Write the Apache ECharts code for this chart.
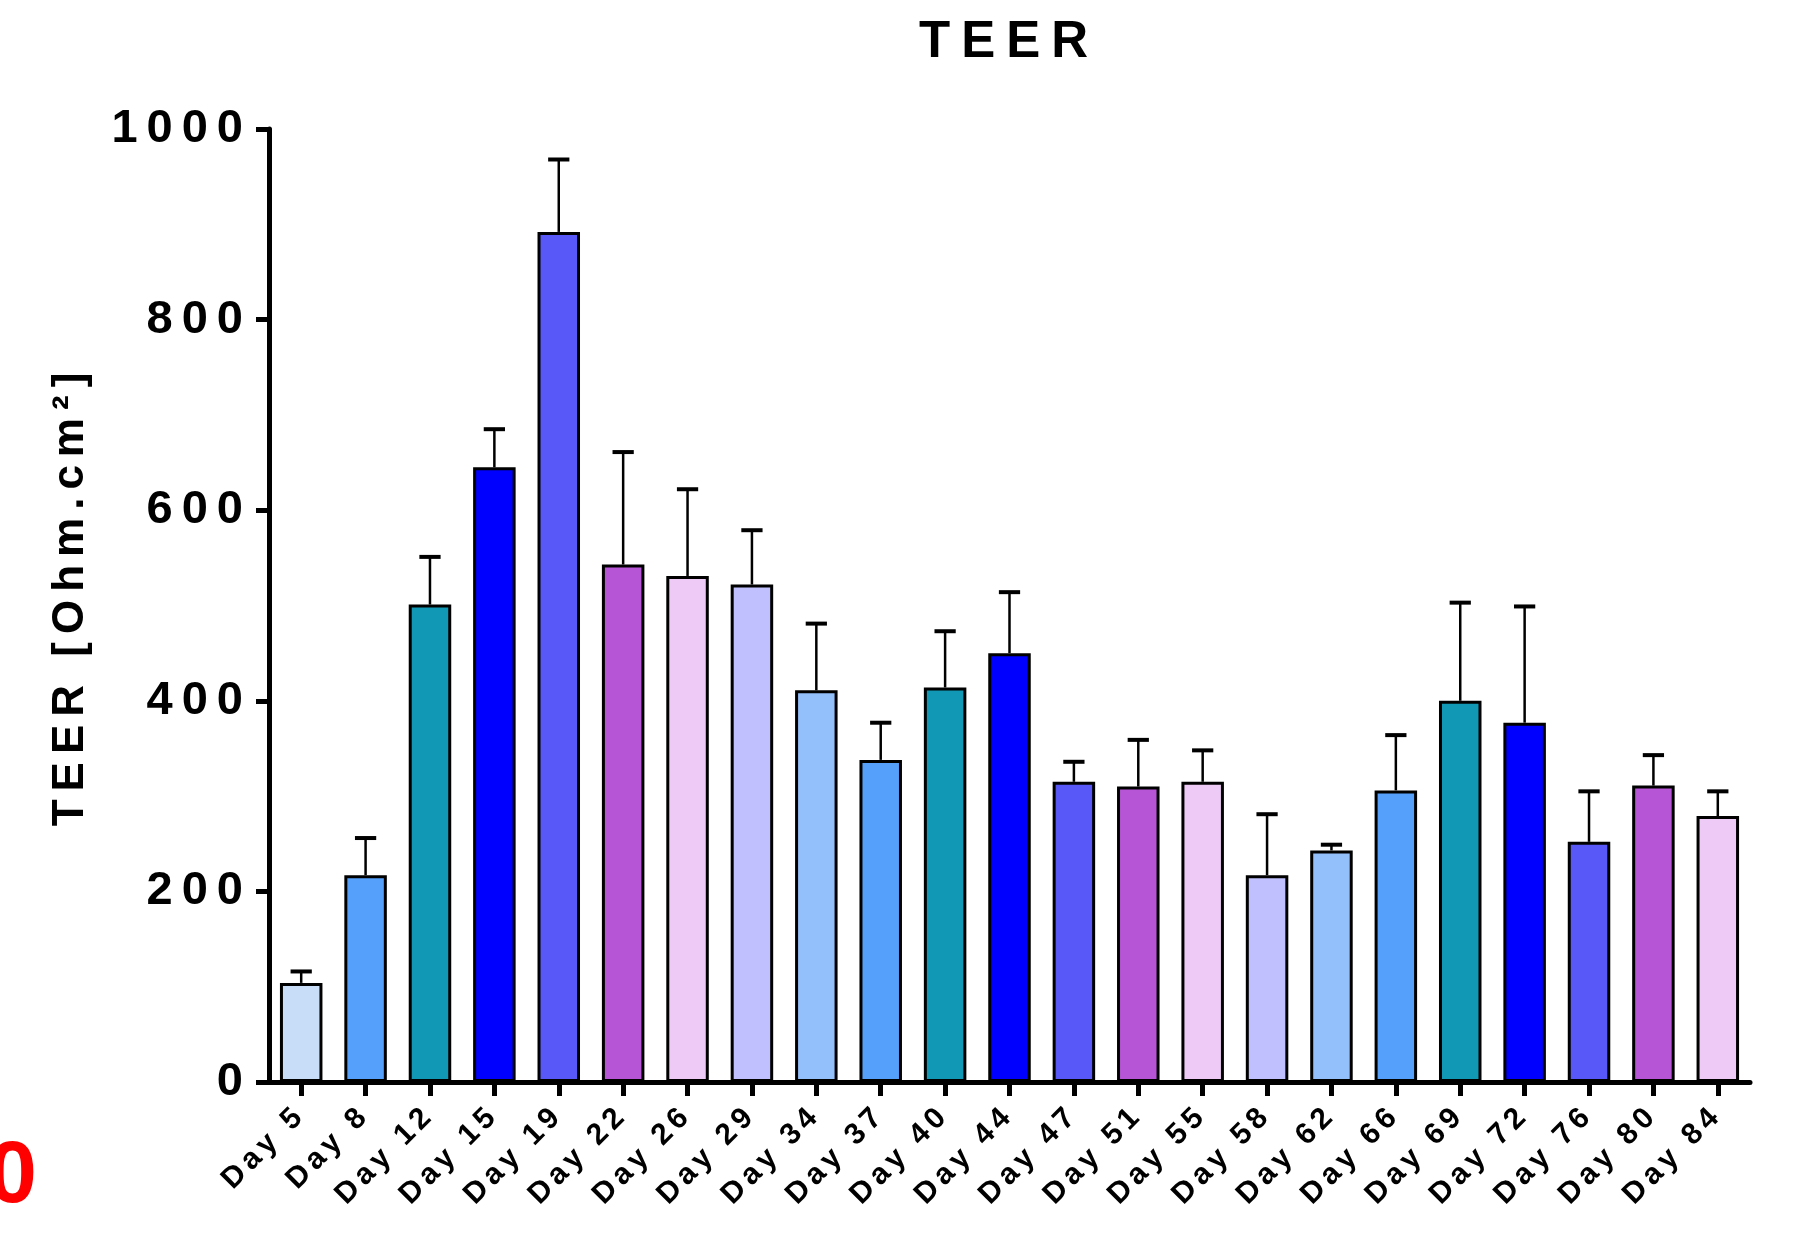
<!DOCTYPE html>
<html>
<head>
<meta charset="utf-8">
<script src="https://cdn.jsdelivr.net/npm/echarts@6/dist/echarts.min.js"></script>
<style>
html,body{margin:0;padding:0;background:#fff;}
#chart{width:1794px;height:1238px;}
</style>
</head>
<body>
<div id="chart"></div>
<script>
// ---- data ----
const days = ['Day 5','Day 8','Day 12','Day 15','Day 19','Day 22','Day 26','Day 29','Day 34','Day 37','Day 40','Day 44','Day 47','Day 51','Day 55','Day 58','Day 62','Day 66','Day 69','Day 72','Day 76','Day 80','Day 84'];
const teerMean = [104,217,501,645,892,543,531,522,411,338,414,450,315,310,315,217,243,306,400,377,252,311,279];
const teerError = [12,39,50,40,76,118,91,57,70,39,59,64,21,49,33,64,6,58,103,122,53,32,26];
const yTicks = [0,200,400,600,800,1000];

// ---- styles ----
const barColors = [
  '#C8DDF7','#55A0FB','#1198B5','#0000FF','#5858F8','#B656D6','#EECAF7','#C0C0FF',
  '#93BFFA','#55A0FB','#1198B5','#0000FF','#5858F8','#B656D6','#EECAF7','#C0C0FF',
  '#93BFFA','#55A0FB','#1198B5','#0000FF','#5858F8','#B656D6','#EECAF7'
];
const FONT = "'Liberation Sans', Arial, Helvetica, sans-serif";

// letter spacing per font size (canvas letterSpacing)
const spacingBySize = {51:11, 47:9, 44:8, 30:5};
const origFill = CanvasRenderingContext2D.prototype.fillText;
CanvasRenderingContext2D.prototype.fillText = function(t, x, y, m){
  const mm = /(\d+(?:\.\d+)?)px/.exec(this.font);
  const s = mm ? (spacingBySize[Math.round(+mm[1])] || 0) : 0;
  if ('letterSpacing' in this) this.letterSpacing = s + 'px';
  return m === undefined ? origFill.call(this, t, x, y) : origFill.call(this, t, x, y, m);
};

const chart = echarts.init(document.getElementById('chart'), null, {renderer:'canvas'});

const barData = teerMean.map((v,i)=>({value:v, itemStyle:{color: barColors[i]}}));
const errData = teerMean.map((v,i)=>[i, v, v + teerError[i]]);

const option = {
  backgroundColor:'#fff',
  animation:false,
  title:{
    text:'TEER',
    left:914, top:12,
    textStyle:{fontFamily:FONT, fontWeight:'bold', fontSize:51, color:'#000'}
  },
  graphic:[{
    type:'text', left:-12, top:1134,
    style:{text:'0', fill:'#FF0000', font:"bold 88px " + FONT}
  }],
  grid:{left:269, right:44, top:129, bottom:156, containLabel:false},
  xAxis:{
    type:'category',
    data:days,
    boundaryGap:true,
    axisLine:{show:true, lineStyle:{color:'#000', width:5}},
    axisTick:{show:true, alignWithLabel:true, length:14, lineStyle:{color:'#000', width:5}},
    axisLabel:{interval:0, rotate:45, margin:28, color:'#000', fontFamily:FONT, fontWeight:'bold', fontSize:30},
    splitLine:{show:false}
  },
  yAxis:{
    type:'value',
    min:0, max:1000, interval:200,
    name:'TEER [Ohm.cm²]',
    nameLocation:'middle',
    nameGap:176,
    nameTextStyle:{fontFamily:FONT, fontWeight:'bold', fontSize:44, color:'#000', padding:[0,0,0,20]},
    axisLine:{show:true, lineStyle:{color:'#000', width:5}},
    axisTick:{show:true, length:13, lineStyle:{color:'#000', width:5}},
    axisLabel:{margin:17, color:'#000', fontFamily:FONT, fontWeight:'bold', fontSize:47,
      formatter:(v)=> yTicks.includes(v) ? String(v) : ''},
    splitLine:{show:false}
  },
  series:[
    {
      type:'bar',
      data:barData,
      barWidth:'66%',
      itemStyle:{borderColor:'#000', borderWidth:3},
      z:2
    },
    {
      type:'custom',
      data:errData,
      encode:{x:0, y:[1,2]},
      z:3,
      renderItem:function(params, api){
        const base = api.coord([api.value(0), api.value(1)]);
        const top = api.coord([api.value(0), api.value(2)]);
        const half = api.size([1,0])[0] * 0.165;
        return {
          type:'group',
          children:[
            {type:'line', shape:{x1:base[0], y1:base[1], x2:base[0], y2:top[1]}, style:{stroke:'#000', lineWidth:2.5}},
            {type:'line', shape:{x1:base[0]-half, y1:top[1], x2:base[0]+half, y2:top[1]}, style:{stroke:'#000', lineWidth:4}}
          ]
        };
      }
    }
  ]
};
chart.setOption(option);
</script>
</body>
</html>
